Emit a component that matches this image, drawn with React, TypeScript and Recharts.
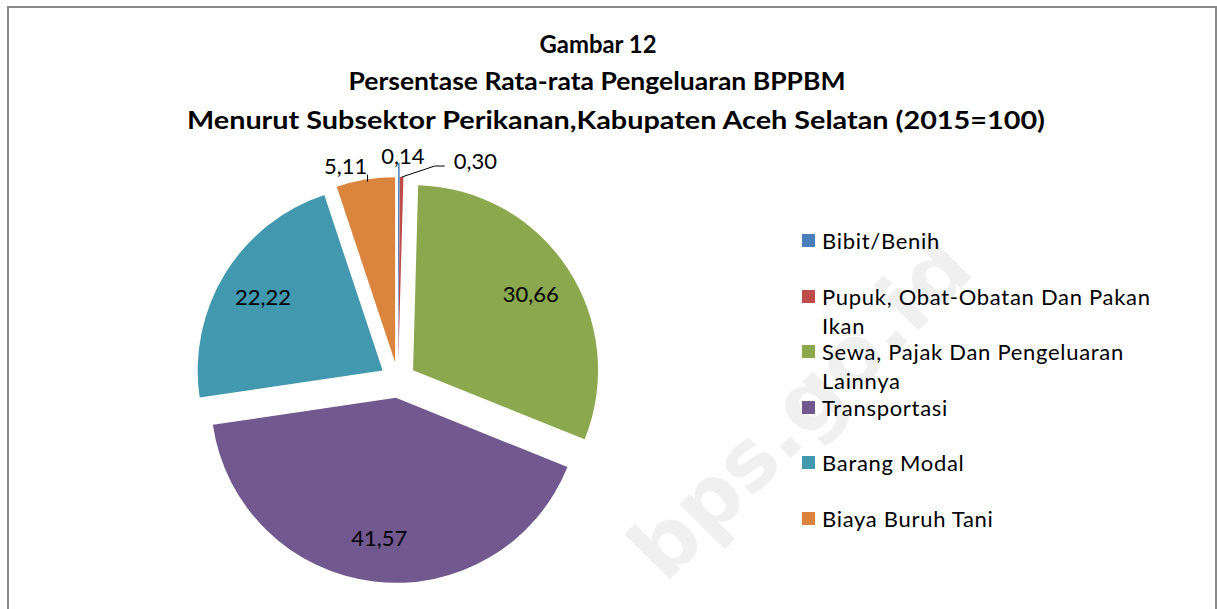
import React from "react";
import { PieChart, Pie, Cell, Sector, Legend } from "recharts";

// slice names / values, clockwise from 12 o'clock
const NAMES = [
  "Bibit/Benih",
  "Pupuk, Obat-Obatan Dan Pakan Ikan",
  "Sewa, Pajak Dan Pengeluaran Lainnya",
  "Transportasi",
  "Barang Modal",
  "Biaya Buruh Tani",
];
const VALUES = [0.14, 0.3, 30.66, 41.57, 22.22, 5.11];
const COLORS = ["#4A7EBB", "#BE4B48", "#8BA84E", "#71588F", "#4298AF", "#DA843E"];
const TITLE_LINES = [
  "Gambar 12",
  "Persentase Rata-rata Pengeluaran BPPBM",
  "Menurut Subsektor Perikanan,Kabupaten Aceh Selatan (2015=100)",
];

const data = NAMES.map((name, i) => ({ name, value: VALUES[i] }));

const RAD = Math.PI / 180;
const EXPLODE = 18;
const FONT = "Lato, Carlito, Calibri, sans-serif";

// nudges for outside labels (relative to the slice's outer edge point)
const OUTSIDE: Record<number, { lx: number; ly: number; anchor: "start" | "middle" }> = {
  0: { lx: 4, ly: -22, anchor: "middle" },
  1: { lx: 52, ly: -17, anchor: "start" },
  5: { lx: -20, ly: -14, anchor: "middle" },
};

function fmt(v: number) {
  return v.toFixed(2).replace(".", ",");
}

function shift(mid: number) {
  return { dx: EXPLODE * Math.cos(-mid * RAD), dy: EXPLODE * Math.sin(-mid * RAD) };
}

function ExplodedSector(props: any) {
  const { dx, dy } = shift(props.midAngle);
  return <Sector {...props} cx={props.cx + dx} cy={props.cy + dy} stroke="none" />;
}

function SliceLabel(props: any) {
  const { cx, cy, midAngle, outerRadius, index, value } = props;
  const { dx, dy } = shift(midAngle);
  const vx = cx + dx;
  const vy = cy + dy;
  const cos = Math.cos(-midAngle * RAD);
  const sin = Math.sin(-midAngle * RAD);
  const txt = { fontFamily: FONT, fontSize: 22, fill: "#000" };

  if (value > 10) {
    const r = outerRadius * 0.76;
    return (
      <text x={vx + r * cos} y={vy + r * sin} textAnchor="middle" dominantBaseline="central" {...txt}>
        {fmt(value)}
      </text>
    );
  }
  const ex = vx + outerRadius * cos;
  const ey = vy + outerRadius * sin;
  const o = OUTSIDE[index];
  let line: React.ReactNode = null;
  if (index === 0) {
    line = <line x1={ex} y1={ey} x2={ex} y2={ey - 14} stroke={COLORS[0]} strokeWidth={1.5} />;
  } else if (index === 1) {
    line = (
      <polyline
        points={`${ex},${ey} ${ex + 33},${ey - 11} ${ex + 43},${ey - 11}`}
        fill="none"
        stroke="#000"
        strokeWidth={1}
      />
    );
  } else {
    line = <line x1={ex + 2} y1={ey + 2} x2={ex + 2} y2={ey - 5} stroke="#000" strokeWidth={1} />;
  }
  return (
    <g>
      {line}
      <text x={ex + o.lx} y={ey + o.ly} textAnchor={o.anchor} dominantBaseline="central" {...txt}>
        {fmt(value)}
      </text>
    </g>
  );
}

function wrap(s: string, max = 28): string[] {
  const out: string[] = [];
  let cur = "";
  for (const w of s.split(" ")) {
    const next = cur ? cur + " " + w : w;
    if (next.length > max && cur) {
      out.push(cur);
      cur = w;
    } else cur = next;
  }
  if (cur) out.push(cur);
  return out;
}

// legend follows the data order (Recharts would sort the payload by name)
function LegendBox() {
  return (
    <div style={{ fontFamily: FONT, fontSize: 22, color: "#000" }}>
      {NAMES.map((name, i) => (
        <div key={name} style={{ position: "relative", height: 55.6 }}>
          <span
            style={{
              position: "absolute", left: 2, top: 8, width: 13, height: 13,
              background: COLORS[i],
            }}
          />
          {wrap(name).map((ln, j) => (
            <div
              key={j}
              style={{
                position: "absolute", left: 22, top: j * 29, lineHeight: "29px",
                whiteSpace: "nowrap", letterSpacing: 0.7,
              }}
            >
              {ln}
            </div>
          ))}
        </div>
      ))}
    </div>
  );
}

export default function App() {
  return (
    <div style={{ position: "absolute", left: 0, top: 0, width: 1217, height: 609, overflow: "hidden", background: "#fff" }}>
      <div
        style={{
          position: "absolute", left: 7, top: 6, width: 1206, height: 640,
          border: "2px solid #8a8a8a",
        }}
      />
      <svg width={1217} height={609} style={{ position: "absolute", left: 0, top: 0 }}>
        <text
          x={800}
          y={408}
          transform="rotate(-45 800 408)"
          textAnchor="middle"
          dominantBaseline="central"
          fontFamily="'DejaVu Sans', sans-serif"
          fontWeight="bold"
          fontSize={84}
          fill="#f0f0f0"
        >
          bps.go.id
        </text>
      </svg>
      <div style={{ position: "absolute", left: 0, top: 0 }}>
        <PieChart width={1217} height={609} margin={{ top: 0, right: 0, bottom: 0, left: 0 }}>
          <Pie
            data={data}
            dataKey="value"
            nameKey="name"
            cx={398}
            cy={380}
            outerRadius={185}
            startAngle={90}
            endAngle={-270}
            isAnimationActive={false}
            shape={ExplodedSector}
            label={SliceLabel}
            labelLine={false}
            stroke="none"
          >
            {data.map((d, i) => (
              <Cell key={d.name} fill={COLORS[i]} />
            ))}
          </Pie>
          <Legend
            layout="vertical"
            content={<LegendBox />}
            wrapperStyle={{ position: "absolute", left: 800, top: 226, width: 400 }}
          />
        </PieChart>
      </div>
      <svg width={1217} height={609} style={{ position: "absolute", left: 0, top: 0, pointerEvents: "none" }}>
        {TITLE_LINES.map((t, i) => (
          <text
            key={i}
            x={[598, 597, 616][i]}
            y={[53, 90, 129][i]}
            textAnchor="middle"
            fontFamily={FONT}
            fontWeight="bold"
            fontSize={24}
            textLength={[117, 497, 858][i]}
            lengthAdjust="spacingAndGlyphs"
            fill="#000"
          >
            {t}
          </text>
        ))}
      </svg>
    </div>
  );
}
